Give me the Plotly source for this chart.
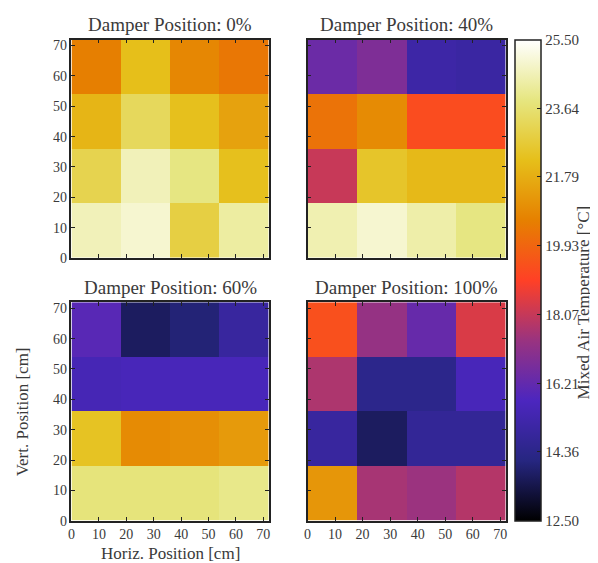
import plotly.graph_objects as go

# ---- data (rows listed bottom -> top, columns left -> right) ----
x_centers = [9, 27, 45, 63]
y_centers = [9, 27, 45, 63]
titles = ["Damper Position: 0%", "Damper Position: 40%",
          "Damper Position: 60%", "Damper Position: 100%"]

temp_0 = [
    [24.6, 24.9, 22.9, 24.3],
    [23.1, 24.6, 23.9, 22.3],
    [22.0, 23.3, 22.3, 21.5],
    [20.6, 22.25, 20.8, 20.4],
]
temp_40 = [
    [24.5, 24.9, 24.4, 23.9],
    [18.1, 22.5, 22.1, 22.1],
    [20.3, 20.9, 19.3, 19.3],
    [16.4, 16.8, 15.1, 15.0],
]
temp_60 = [
    [23.8, 23.8, 23.8, 24.0],
    [22.4, 20.9, 21.0, 21.3],
    [15.5, 15.6, 15.6, 15.6],
    [16.0, 13.7, 14.0, 14.9],
]
temp_100 = [
    [21.2, 17.6, 17.4, 17.8],
    [14.9, 13.7, 14.7, 14.7],
    [17.7, 14.4, 14.4, 15.6],
    [19.4, 17.3, 16.3, 18.4],
]

zmin, zmax = 12.5, 25.5
cbar_ticks = [12.50, 14.36, 16.21, 18.07, 19.93, 21.79, 23.64, 25.50]
axis_ticks = [0, 10, 20, 30, 40, 50, 60, 70]
x_title = "Horiz. Position [cm]"
y_title = "Vert. Position [cm]"
cbar_title = "Mixed Air Temperature [°C]"

# matplotlib CMRmap anchors
cmr_pos = [0.0, 0.125, 0.25, 0.375, 0.5, 0.625, 0.75, 0.875, 1.0]
cmr_r = [0.00, 0.15, 0.30, 0.60, 1.00, 0.90, 0.90, 0.90, 1.00]
cmr_g = [0.00, 0.15, 0.15, 0.20, 0.25, 0.50, 0.75, 0.90, 1.00]
cmr_b = [0.00, 0.50, 0.75, 0.50, 0.15, 0.00, 0.10, 0.50, 1.00]
colorscale = [[p, "rgb(%d,%d,%d)" % (round(r * 255), round(g * 255), round(b * 255))]
              for p, r, g, b in zip(cmr_pos, cmr_r, cmr_g, cmr_b)]

W, H = 598, 563
def px(x):
    return x / W
def py(y):
    return 1 - y / H

panels = [
    (temp_0, (60, 259), (31, 253)),
    (temp_40, (298, 498), (31, 253)),
    (temp_60, (60, 259), (298, 520)),
    (temp_100, (298, 498), (298, 520)),
]

FONT = "Liberation Serif"
TXT = "#3a3a3a"

fig = go.Figure()
layout = dict(
    width=W, height=H,
    margin=dict(l=0, r=0, t=0, b=0),
    paper_bgcolor="white", plot_bgcolor="white",
    font=dict(family=FONT, size=14, color=TXT),
    showlegend=False,
)
annotations = []
for i, (z, (x0, x1), (y0, y1)) in enumerate(panels):
    n = i + 1
    xa = "x" if n == 1 else "x%d" % n
    ya = "y" if n == 1 else "y%d" % n
    fig.add_trace(go.Heatmap(
        z=z, x=x_centers, y=y_centers,
        colorscale=colorscale, zmin=zmin, zmax=zmax,
        xaxis=xa, yaxis=ya,
        showscale=(n == 1),
        colorbar=dict(
            x=px(507), xanchor="left", xpad=0,
            y=py(520), yanchor="bottom", ypad=0,
            len=(520 - 31) / H, lenmode="fraction",
            thickness=26, thicknessmode="pixels",
            outlinewidth=1.5, outlinecolor="#222",
            tickvals=cbar_ticks,
            ticktext=["%.2f" % v for v in cbar_ticks],
            ticks="inside", ticklen=4, tickcolor="#222",
            tickfont=dict(family=FONT, size=15, color=TXT),
        ),
        hoverinfo="skip",
    ))
    axkey_x = "xaxis" if n == 1 else "xaxis%d" % n
    axkey_y = "yaxis" if n == 1 else "yaxis%d" % n
    common = dict(
        range=[0, 72], tickvals=axis_ticks,
        ticks="inside", ticklen=4, tickcolor="#222", tickwidth=1,
        showline=True, linecolor="#222", linewidth=1.5, mirror="ticks",
        showgrid=False, zeroline=False,
        tickfont=dict(family=FONT, size=14, color=TXT),
    )
    layout[axkey_x] = dict(common, domain=[px(x0), px(x1)], anchor=ya,
                           showticklabels=(n in (3, 4)))
    layout[axkey_y] = dict(common, domain=[py(y1), py(y0)], anchor=xa,
                           showticklabels=(n in (1, 3)))
    annotations.append(dict(
        text=titles[i], x=(px(x0) + px(x1)) / 2, y=py(y0 - 15),
        xref="paper", yref="paper", xanchor="center", yanchor="middle",
        showarrow=False, font=dict(family=FONT, size=19, color=TXT)))

annotations.append(dict(
    text=x_title, x=px(160), y=py(553), xref="paper", yref="paper",
    xanchor="center", yanchor="middle", showarrow=False,
    font=dict(family=FONT, size=17, color=TXT)))
annotations.append(dict(
    text=y_title, x=px(11), y=py(409), xref="paper", yref="paper",
    xanchor="center", yanchor="middle", showarrow=False, textangle=-90,
    font=dict(family=FONT, size=17, color=TXT)))
annotations.append(dict(
    text=cbar_title, x=px(576), y=py(298), xref="paper", yref="paper",
    xanchor="center", yanchor="middle", showarrow=False, textangle=-90,
    font=dict(family=FONT, size=17, color=TXT)))

layout["annotations"] = annotations
fig.update_layout(**layout)
fig.write_html("out.html")
